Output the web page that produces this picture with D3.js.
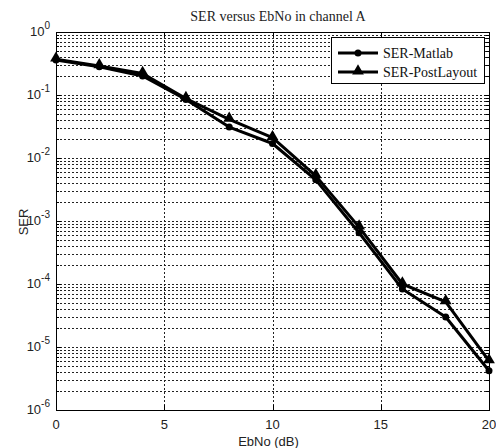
<!DOCTYPE html>
<html><head><meta charset="utf-8">
<script src="https://d3js.org/d3.v7.min.js"></script>
<style>body{margin:0;background:#fff}svg{display:block}</style>
</head><body>
<script>
const ebno = [0,2,4,6,8,10,12,14,16,18,20];
const serMatlab = [0.36,0.28,0.20,0.085,0.031,0.017,0.0045,0.00065,0.000083,0.00003,0.0000042];
const serPost = [0.37,0.29,0.22,0.088,0.041,0.021,0.0052,0.0008,0.0001,0.000052,0.000006];
const xTicks = [0,5,10,15,20];
const yTicks = [1e0,1e-1,1e-2,1e-3,1e-4,1e-5,1e-6];
const seriesNames = ["SER-Matlab","SER-PostLayout"];

const W=496,H=448, L=56,R=489,T=32,B=410;
const svg=d3.select("body").append("svg").attr("width",W).attr("height",H);
const x=d3.scaleLinear().domain([0,20]).range([L,R]);
const y=d3.scaleLog().domain([1e-6,1]).range([B,T]);

// grid
const g=svg.append("g").attr("stroke","#222").attr("stroke-width",1).attr("stroke-dasharray","2,2").attr("shape-rendering","crispEdges");
const minor=[];
for(let e=-6;e<0;e++){for(let m=1;m<10;m++){minor.push(m*Math.pow(10,e));}}
minor.forEach(v=>{ if(v>1e-6) g.append("line").attr("x1",L).attr("x2",R).attr("y1",Math.round(y(v))+0.5).attr("y2",Math.round(y(v))+0.5);});
xTicks.slice(1,-1).forEach(v=>g.append("line").attr("x1",Math.round(x(v))+0.5).attr("x2",Math.round(x(v))+0.5).attr("y1",T).attr("y2",B));

// axes box
svg.append("rect").attr("x",L+0.5).attr("y",T+0.5).attr("width",R-L).attr("height",B-T).attr("fill","none").attr("stroke","#000").attr("stroke-width",1);

// ticks (inward)
const tk=svg.append("g").attr("stroke","#000").attr("shape-rendering","crispEdges");
xTicks.forEach(v=>{const px=Math.round(x(v))+0.5;tk.append("line").attr("x1",px).attr("x2",px).attr("y1",B).attr("y2",B-5);tk.append("line").attr("x1",px).attr("x2",px).attr("y1",T).attr("y2",T+5);});
minor.concat([1]).forEach(v=>{const py=Math.round(y(v))+0.5;const len=(Math.abs(Math.log10(v)-Math.round(Math.log10(v)))<1e-9)?5:3;tk.append("line").attr("x1",L).attr("x2",L+len).attr("y1",py).attr("y2",py);tk.append("line").attr("x1",R).attr("x2",R-len).attr("y1",py).attr("y2",py);});

// tick labels
const sans="'Liberation Sans',Arial,sans-serif";
xTicks.forEach(v=>svg.append("text").attr("x",x(v)).attr("y",B+19).attr("text-anchor","middle").attr("font-family",sans).attr("font-size",13).attr("fill","#222").text(v));
yTicks.forEach(v=>{
  const e=Math.round(Math.log10(v));
  const t=svg.append("text").attr("x",50).attr("y",y(v)+4).attr("text-anchor","end").attr("font-family",sans).attr("font-size",13).attr("fill","#222");
  t.append("tspan").text("10");
  t.append("tspan").attr("dy",-7).attr("font-size",10).text(e);
});

// axis labels
svg.append("text").attr("x",(L+R)/2-4).attr("y",446).attr("text-anchor","middle").attr("font-family",sans).attr("font-size",13).attr("fill","#222").text("EbNo (dB)");
svg.append("text").attr("transform",`translate(28,222) rotate(-90)`).attr("text-anchor","middle").attr("font-family",sans).attr("font-size",13).attr("fill","#222").text("SER");
svg.append("text").attr("x",278).attr("y",21).attr("text-anchor","middle").attr("font-family","'Liberation Serif','Times New Roman',serif").attr("font-size",14).attr("fill","#222").text("SER versus EbNo in channel A");

// lines
svg.append("clipPath").attr("id","c").append("rect").attr("x",L-10).attr("y",T).attr("width",R-L+20).attr("height",B-T);
const line=d3.line().x((d,i)=>x(ebno[i])).y(d=>y(d));
const tri=d3.symbol().type(d3.symbolTriangle).size(60);
[serPost,serMatlab].forEach((s,k)=>{
  svg.append("path").datum(s).attr("d",line).attr("fill","none").attr("stroke","#000").attr("stroke-width",3).attr("stroke-linejoin","round");
});
svg.append("g").attr("clip-path","url(#c)").selectAll("path").data(serPost).join("path").attr("d",tri).attr("transform",(d,i)=>`translate(${x(ebno[i])},${y(d)-1})`).attr("fill","#000");
svg.append("g").selectAll("circle").data(serMatlab).join("circle").attr("cx",(d,i)=>x(ebno[i])).attr("cy",d=>y(d)).attr("r",3.5).attr("fill","#000");

// legend
const lg=svg.append("g");
lg.append("rect").attr("x",331.5).attr("y",37.5).attr("width",153).attr("height",46).attr("fill","#fff").attr("stroke","#000");
const serif="'Liberation Serif','Times New Roman',serif";
[53,72].forEach((ly,k)=>{
  lg.append("line").attr("x1",338).attr("x2",378).attr("y1",ly).attr("y2",ly).attr("stroke","#000").attr("stroke-width",3);
  if(k===0) lg.append("circle").attr("cx",358).attr("cy",ly).attr("r",3.5).attr("fill","#000");
  else lg.append("path").attr("d",tri).attr("transform",`translate(358,${ly-1})`).attr("fill","#000");
  lg.append("text").attr("x",383).attr("y",ly+5).attr("font-family",serif).attr("font-size",14).attr("fill","#111").text(seriesNames[k]);
});
</script>
</body></html>
